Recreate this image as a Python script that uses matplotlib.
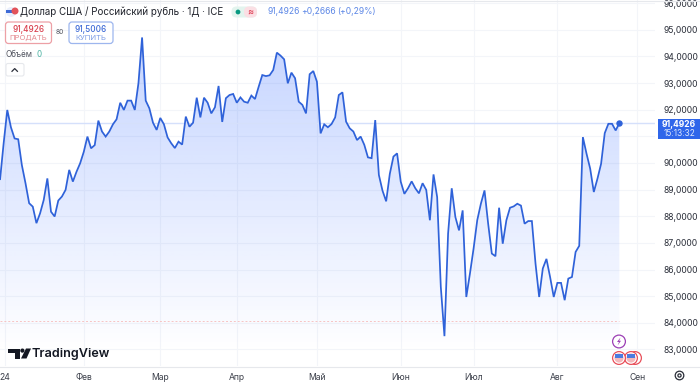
import numpy as np
import matplotlib
matplotlib.use('Agg')
import matplotlib.pyplot as plt
from matplotlib.patches import FancyBboxPatch, Circle, Polygon, Rectangle

plt.rcParams['font.family'] = ['Inter', 'DejaVu Sans']

prices = [
 89.36,90.74,91.99,91.34,90.92,90.89,89.92,89.24,88.49,88.36,87.74,88.11,88.61,89.42,88.17,87.99,
 88.59,88.74,88.99,89.74,89.30,89.67,89.99,90.42,90.99,90.55,90.67,91.59,91.18,90.99,91.18,91.45,
 91.64,92.26,91.99,92.34,92.34,91.99,92.99,94.71,92.34,92.05,91.51,91.24,91.69,91.45,90.96,90.74,
 90.56,90.80,90.69,91.74,91.36,91.51,92.45,91.71,92.45,92.26,91.86,92.09,92.89,91.54,
 92.43,92.55,92.59,92.26,92.46,92.30,92.26,92.53,92.40,92.86,93.30,93.26,93.29,93.49,94.14,94.03,
 93.89,92.99,93.39,93.18,92.30,92.18,91.86,93.33,93.45,93.05,91.11,91.45,91.34,91.46,91.71,92.55,
 92.65,91.55,91.30,91.18,90.86,90.99,90.68,90.21,90.18,91.61,89.55,88.96,88.56,89.59,90.24,90.36,
 89.30,88.84,89.05,89.31,89.05,88.86,89.24,88.99,87.85,89.57,88.72,85.35,83.50,87.35,89.05,87.97,
 87.47,88.22,84.97,85.85,86.79,87.85,88.47,88.97,87.72,86.60,86.50,88.32,86.97,87.85,88.32,88.37,
 88.47,88.40,87.72,87.82,87.82,86.22,84.97,86.04,86.40,85.72,84.97,85.50,85.50,84.85,85.66,85.72,
 86.66,86.89,90.97,90.35,89.79,88.91,89.41,89.97,91.12,91.47,91.47,91.22,91.4926]
month_labels = ['24', 'Фев', 'Мар', 'Апр', 'Май', 'Июн', 'Июл', 'Авг', 'Сен']
month_index = [1.4, 23.06, 43.9, 65, 87, 110, 130, 153, 174.9]
price_ticks = [83, 84, 85, 86, 87, 88, 89, 90, 91, 92, 93, 94, 95, 96]
hidden_tick = 91
last_price = 91.4926
low_line = 84.08

days = np.arange(len(prices))
W, H = 700, 382
fig = plt.figure(figsize=(W/100, H/100), dpi=100, facecolor='white')
ax = fig.add_axes([0, 1-366/H, 655/W, 366/H])
for s in ax.spines.values():
    s.set_visible(False)
ax.yaxis.tick_right()
ax.set_yticks(price_ticks)
ax.set_yticklabels(['' if p == hidden_tick else f'{p},0000' for p in price_ticks], fontsize=6.2, color='#2a2e39')
ax.set_xticks(month_index)
ax.set_xticklabels(month_labels, fontsize=6.2, color='#3a3e49')
ax.tick_params(length=0, pad=6)
ax.tick_params(axis='x', pad=5)
ax.grid(True, color='#f3f5f9', lw=0.8)
ax.set_axisbelow(True)

# gradient area
g = np.linspace(0, 1, 256).reshape(-1, 1)
rgba = np.zeros((256, 1, 4))
rgba[..., :3] = np.array([41, 98, 255]) / 255
rgba[..., 3] = (0.27 * (1 - g) + 0.0 * g)
top = max(prices)
im = ax.imshow(rgba, extent=(0, days[-1], 82.9, top), origin='upper', aspect='auto', zorder=1.5)
poly = Polygon(list(zip(days, prices)) + [(days[-1], 82.38), (0, 82.38)], transform=ax.transData, fc='none', ec='none')
ax.add_patch(poly)
im.set_clip_path(poly)
ax.set_xlim(0, 655/3.643)
ax.set_ylim(82.38, 96.116)

ax.axhline(last_price, color='#d5e0fb', lw=1.0, zorder=2)
ax.plot([0, days[-1]], [low_line, low_line], color='#f7c4c4', lw=0.7, ls=(0, (2, 2)), zorder=2)
ax.plot(days, prices, color='#2f62d9', lw=1.25, zorder=3, solid_joinstyle='miter', solid_capstyle='butt')
ax.plot(days[-1], prices[-1], 'o', color='#2f62d9', ms=3.6, zorder=4)

# overlay in pixel coordinates
ov = fig.add_axes([0, 0, 1, 1], facecolor='none')
ov.set_xlim(0, W); ov.set_ylim(H, 0); ov.axis('off')
ov.plot([0, 700], [366.5, 366.5], color='#e6e8ec', lw=0.8)
ov.plot([0, 700], [0.5, 0.5], color='#e6e8ec', lw=0.8)

def box(x0, y0, x1, y1, fc, ec, r=3, lw=0.9):
    p = FancyBboxPatch((x0+r, y0+r), x1-x0-2*r, y1-y0-2*r, boxstyle=f'round,pad={r},rounding_size={r}',
                       fc=fc, ec=ec, lw=lw, mutation_aspect=1)
    ov.add_patch(p)

# header
ov.add_patch(Circle((11, 12), 5, fc='#e8eefc', ec='none'))
ov.add_patch(Rectangle((6, 10), 9, 3, fc='#3d6ad6', ec='none'))
ov.add_patch(Circle((15, 11), 3.5, fc='#e2535b', ec='none'))
ov.text(20, 12, 'Доллар США / Российский рубль · 1Д · ICE', fontsize=7.0, color='#1f222b', va='center', ha='left')
box(231.5, 6.5, 257, 17.5, '#e3f4ee', 'none', r=5, lw=0)
box(244, 6.5, 257, 17.5, '#fbdfe4', 'none', r=5, lw=0)
ov.add_patch(Circle((238, 12), 2.4, fc='#089981', ec='none'))
ov.text(250, 12, '≈', fontsize=6.5, color='#e0455a', va='center', ha='center', fontweight='bold')
ov.text(267, 12, '91,4926', fontsize=6.1, color='#5b86e6', va='center', ha='left')
ov.text(301, 12, '+0,2666', fontsize=6.1, color='#5b86e6', va='center', ha='left')
ov.text(337, 12, '(+0,29%)', fontsize=6.1, color='#5b86e6', va='center', ha='left')

box(5.5, 22, 51.5, 43.5, 'white', '#eda0a6', r=3)
ov.text(28.5, 29, '91,4926', fontsize=5.9, color='#d9414f', ha='center', va='center', fontweight='medium')
ov.text(28.5, 38, 'ПРОДАТЬ', fontsize=5.5, color='#e58a90', ha='center', va='center')
ov.text(60, 32.5, '80', fontsize=4.8, color='#50535e', ha='center', va='center')
box(69, 22, 113, 43.5, 'white', '#9db6ee', r=3)
ov.text(91, 29, '91,5006', fontsize=5.9, color='#3d6ad6', ha='center', va='center', fontweight='medium')
ov.text(91, 38, 'КУПИТЬ', fontsize=5.5, color='#7f9fe6', ha='center', va='center')
ov.text(6, 54.5, 'Объём', fontsize=5.8, color='#50535e', va='center')
ov.text(36.5, 54.5, '0', fontsize=5.8, color='#4db3a3', va='center')
box(6, 63.5, 24, 76, 'white', '#e6e8ec', r=2, lw=0.8)
ov.plot([12, 14.7, 17.4], [71.3, 68.6, 71.3], color='#2a2e39', lw=0.9)

# price badge
ov.add_patch(Rectangle((658, 119), 42, 20, fc='#2f66ea', ec='none'))
ov.text(679, 124.2, '91,4926', fontsize=6.1, color='white', ha='center', va='center', fontweight='bold')
ov.text(679, 133.3, '15:13:32', fontsize=6.0, color='#dde6fc', ha='center', va='center')

# logo
ov.add_patch(Polygon([(8, 348.5), (20, 348.5), (20, 358.5), (15, 358.5), (15, 353), (8, 353)], fc='#131722', ec='none'))
ov.add_patch(Circle((22.4, 350.6), 2.1, fc='#131722', ec='none'))
ov.add_patch(Polygon([(26, 348.5), (31, 348.5), (26.5, 358.5), (21, 358.5)], fc='#131722', ec='none'))
ov.text(32, 353.5, 'TradingView', fontsize=9.1, color='#131722', va='center', ha='left', fontweight='semibold')

# event markers
for cx in (635, 631):
    ov.add_patch(Circle((cx, 358), 6.4, fc='white', ec='#e8505b', lw=0.9))
ov.add_patch(Circle((619, 358), 6.4, fc='white', ec='#e8505b', lw=0.9))
for cx in (619, 631):
    ov.add_patch(Circle((cx, 358), 4.6, fc='#f3b8bb', ec='none'))
    ov.add_patch(Rectangle((cx-4, 353.8), 8, 4.2, fc='#4a7be0', ec='none'))
ov.add_patch(Circle((619, 341.5), 6.4, fc='white', ec='#9c3fb5', lw=0.9))
ov.add_patch(Polygon([(620.5, 337.5), (617, 342), (619, 342), (617.6, 345.5), (621, 340.8), (619.2, 340.8)], fc='#9c3fb5', ec='none'))

# gear
ov.add_patch(Circle((679.5, 375.5), 4.3, fc='none', ec='#2a2e39', lw=0.9))
ov.add_patch(Circle((679.5, 375.5), 1.6, fc='none', ec='#2a2e39', lw=0.9))

fig.savefig('out.png', dpi=100, facecolor='white')
